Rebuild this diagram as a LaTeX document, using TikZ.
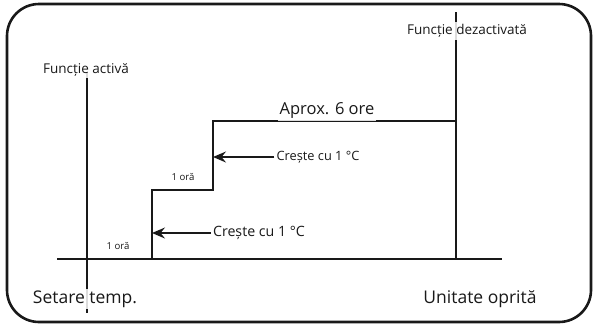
\documentclass[tikz,border=0pt]{standalone}
\usepackage{fontspec}
\setmainfont{Open Sans}
\usetikzlibrary{arrows.meta}
\begin{document}
\begin{tikzpicture}[x=1pt,y=-1pt,
  thickline/.style={line width=2.6pt, draw=black!90},
  arr/.style={line width=1.5pt, draw=black!90, -{Stealth[length=13pt,width=11pt,inset=4.5pt]}},
  lbl/.style={fill=white, fill opacity=0.85, text opacity=1, inner sep=2pt, text=black!90},
  fs/.style={font=\fontsize{#1}{#1}\selectfont}]
\useasboundingbox (0,0) rectangle (593,325);
% border
\draw[line width=2.6pt, draw=black!90, rounded corners=32pt] (7,4) rectangle (591,322);
% coordinates
\coordinate (b0) at (57,259);
\coordinate (b1) at (502,259);
\coordinate (la) at (87,72);
\coordinate (lb) at (87,313);
\coordinate (s0) at (152,259);
\coordinate (s1) at (152,190);
\coordinate (s2) at (213,190);
\coordinate (s3) at (213,121);
\coordinate (s4) at (456,121);
\coordinate (ra) at (456,12);
\coordinate (rb) at (456,259);
% lines
\draw[thickline] (b0) -- (b1);
\draw[thickline] (la) -- (lb);
\draw[thickline, line join=miter] (s0) -- (s1) -- (s2) -- (s3) -- (s4);
\draw[thickline] (ra) -- (rb);
% labels
\node[lbl, fs=13.5] (fa) at (86,70) {Funcție activă};
\node[lbl, fs=13.5] (fd) at (467,31) {Funcție dezactivată};
\node[lbl, fs=16.5] (ap) at (327,111) {Aprox. 6 ore};
\node[lbl, fs=12.8] (c1) at (318,157) {Crește cu 1 °C};
\node[lbl, fs=14.2] (c2) at (259,233) {Crește cu 1 °C};
\node[lbl, fs=9.6] (o1) at (118,246) {1 oră};
\node[lbl, fs=9.6] (o2) at (183,177) {1 oră};
\node[lbl, fs=17.5] (st) at (85,299) {Setare temp.};
\node[lbl, fs=17.5] (uo) at (480,299) {Unitate oprită};
% arrows
\draw[arr] (c1.west) -- (c1.west -| s3);
\draw[arr] (c2.west) -- (c2.west -| s1);
\end{tikzpicture}
\end{document}
